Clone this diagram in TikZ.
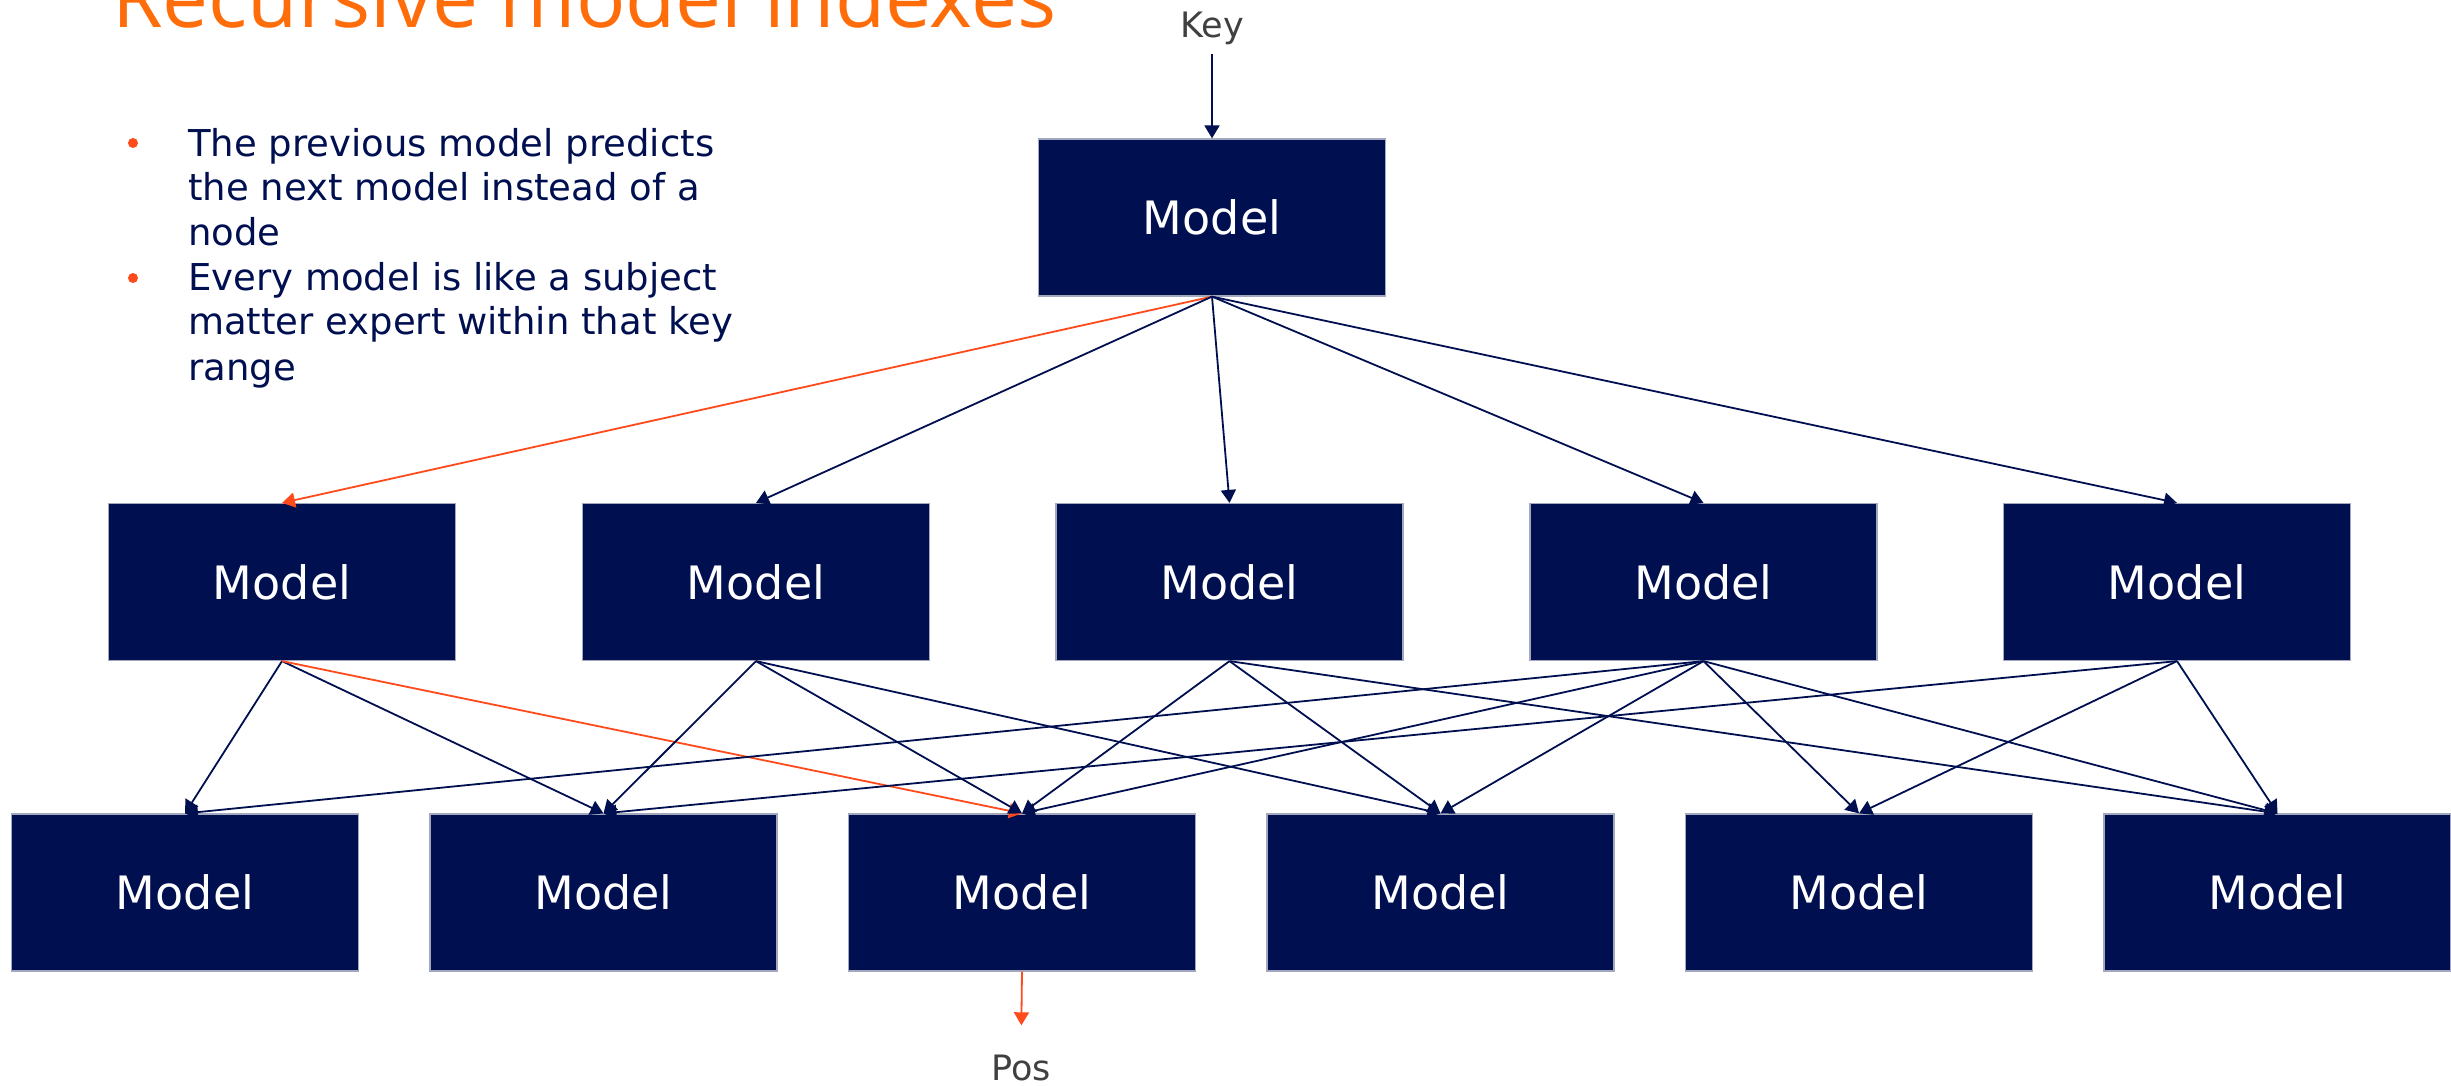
\documentclass[tikz,border=0pt]{standalone}
\usepackage{fontspec}
\setmainfont{DejaVu Sans}
\newfontfamily\titlefont{Open Sans}
\usetikzlibrary{arrows.meta}
\definecolor{navy}{HTML}{000F50}
\definecolor{accent}{HTML}{FF4A1C}
\definecolor{titleorange}{HTML}{FF6C0A}
\definecolor{labelgray}{HTML}{404040}
\definecolor{edgegray}{HTML}{A3A8BE}

\tikzset{
  modelbox/.style={rectangle, fill=navy, draw=edgegray, line width=1.2pt,
    minimum width=347pt, minimum height=157pt, inner sep=0pt,
    text=white, font=\fontsize{46}{55}\selectfont},
  link/.style={draw=navy, line width=1.8pt,
    -{Triangle[width=15pt,length=13pt]}},
  hotlink/.style={draw=accent, line width=1.8pt,
    -{Triangle[width=15pt,length=13pt]}},
  bodyline/.style={anchor=base west, inner sep=0pt, text=navy,
    font=\fontsize{37}{44}\selectfont},
  bulletdot/.style={circle, fill=accent, inner sep=0pt, minimum size=10pt},
  endlabel/.style={anchor=base, inner sep=0pt, text=labelgray,
    font=\fontsize{35}{42}\selectfont}
}

\begin{document}
\begin{tikzpicture}[x=1pt, y=-1pt]
\useasboundingbox (0,0) rectangle (2451,1085);

% heading
\node[anchor=base west, inner sep=0pt, text=titleorange,
      font=\titlefont\fontsize{82}{90}\selectfont] (title) at (112,27)
      {Recursive model indexes};

% bullet list
\node[bulletdot] (dot1) at (133,143) {};
\node[bulletdot] (dot2) at (133,278) {};
\node[bodyline] (l1) at (188,156) {The previous model predicts};
\node[bodyline] (l2) at (188,200) {the next model instead of a};
\node[bodyline] (l3) at (188,245) {node};
\node[bodyline] (l4) at (188,290) {Every model is like a subject};
\node[bodyline] (l5) at (188,334) {matter expert within that key};
\node[bodyline] (l6) at (188,380) {range};

% input and output labels
\node[endlabel] (key) at (1212,37) {Key};
\node[endlabel] (pos) at (1021,1080) {Pos};

% root model
\node[modelbox] (top) at (1212,217.5) {Model};

% second stage
\node[modelbox] (m1) at (282,582) {Model};
\node[modelbox] (m2) at (756,582) {Model};
\node[modelbox] (m3) at (1229.5,582) {Model};
\node[modelbox] (m4) at (1703.5,582) {Model};
\node[modelbox] (m5) at (2177,582) {Model};

% third stage
\node[modelbox] (b1) at (185,892.5) {Model};
\node[modelbox] (b2) at (603.5,892.5) {Model};
\node[modelbox] (b3) at (1022,892.5) {Model};
\node[modelbox] (b4) at (1440.5,892.5) {Model};
\node[modelbox] (b5) at (1859,892.5) {Model};
\node[modelbox] (b6) at (2277.5,892.5) {Model};

% key enters the root
\draw[link, shorten <=10pt] (key.south) -- (top.north);

% root to second stage
\draw[hotlink] (top.south) -- (m1.north);
\draw[link] (top.south) -- (m2.north);
\draw[link] (top.south) -- (m3.north);
\draw[link] (top.south) -- (m4.north);
\draw[link] (top.south) -- (m5.north);

% second stage to third stage
\draw[link] (m1.south) -- (b1.north);
\draw[link] (m1.south) -- (b2.north);
\draw[hotlink] (m1.south) -- (b3.north);

\draw[link] (m2.south) -- (b2.north);
\draw[link] (m2.south) -- (b3.north);
\draw[link] (m2.south) -- (b4.north);

\draw[link] (m3.south) -- (b3.north);
\draw[link] (m3.south) -- (b4.north);
\draw[link] (m3.south) -- (b6.north);

\draw[link] (m4.south) -- (b1.north);
\draw[link] (m4.south) -- (b3.north);
\draw[link] (m4.south) -- (b4.north);
\draw[link] (m4.south) -- (b5.north);
\draw[link] (m4.south) -- (b6.north);

\draw[link] (m5.south) -- (b2.north);
\draw[link] (m5.south) -- (b5.north);
\draw[link] (m5.south) -- (b6.north);

% predicted position
\draw[hotlink, shorten >=29pt] (b3.south) -- (pos.north);
\end{tikzpicture}
\end{document}
